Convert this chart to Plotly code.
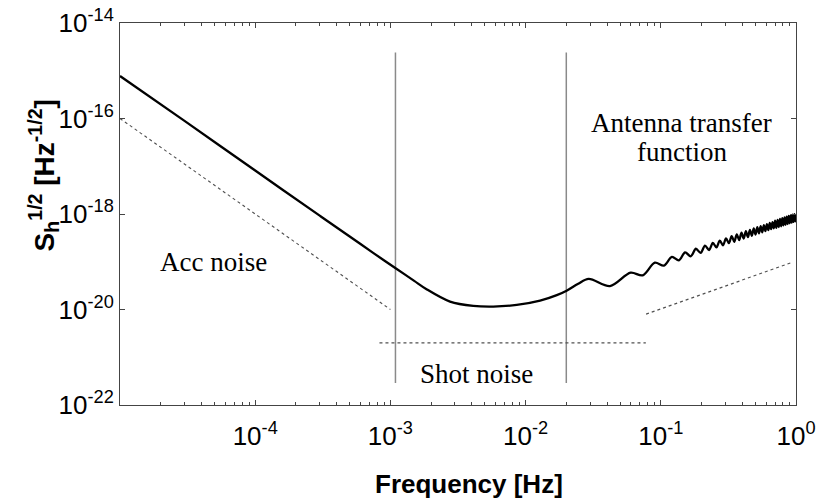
import plotly.graph_objects as go

# ---- data (frequency in Hz, strain ASD as log10) ----
solid_freq = [1e-5, 3e-5, 1e-4, 3e-4, 5e-4, 7.5e-4, 1.1e-3, 1.5e-3, 1.85e-3, 2.76e-3, 4.1e-3, 5.77e-3, 8.6e-3,
              0.0128, 0.0170, 0.0201, 0.0245,
              0.0293, 0.0421, 0.0598, 0.0735,
              0.0903, 0.1055, 0.1208, 0.1360, 0.1513, 0.1665, 0.1818, 0.1970,
              0.2123, 0.2275, 0.2428, 0.2580, 0.2733, 0.2885, 0.3038, 0.3190,
              0.3343, 0.3495, 0.3648, 0.3800, 0.3953, 0.4105, 0.4258, 0.4410,
              0.4563, 0.4715, 0.4868, 0.5020, 0.5173, 0.5325, 0.5478, 0.5630,
              0.5783, 0.5935, 0.6088, 0.6240, 0.6393, 0.6545, 0.6698, 0.6850,
              0.7003, 0.7155, 0.7308, 0.7460, 0.7613, 0.7765, 0.7918, 0.8070,
              0.8223, 0.8375, 0.8528, 0.8680, 0.8833, 0.8985, 0.9138, 0.9290,
              0.9443, 0.9595, 0.9748, 0.9900, 1.0]
solid_log_asd = [-15.11, -16.05, -17.09, -18.035, -18.47, -18.82, -19.14, -19.40, -19.575, -19.835, -19.925, -19.94, -19.905,
                 -19.815, -19.70, -19.606, -19.46,
                 -19.36, -19.51, -19.23, -19.285,
                 -19.02, -19.08, -18.90, -18.97, -18.805, -18.886, -18.728, -18.815,
                 -18.663, -18.754, -18.607, -18.700, -18.556, -18.654, -18.511, -18.611,
                 -18.462, -18.583, -18.425, -18.547, -18.391, -18.515, -18.360, -18.485,
                 -18.331, -18.457, -18.304, -18.430, -18.277, -18.406, -18.253, -18.383,
                 -18.231, -18.360, -18.210, -18.339, -18.188, -18.318, -18.169, -18.299,
                 -18.140, -18.291, -18.122, -18.273, -18.104, -18.257, -18.088, -18.240,
                 -18.072, -18.225, -18.057, -18.209, -18.042, -18.195, -18.028, -18.181,
                 -18.014, -18.167, -18.001, -18.154, -18.02]
solid_asd = [10 ** v for v in solid_log_asd]

acc_freq = [1e-5, 1e-3]
acc_asd = [1e-16, 1e-20]

shot_freq = [8.3e-4, 0.0775]
shot_asd = [2.0e-21, 2.0e-21]

antenna_freq = [0.0778, 0.92]
antenna_asd = [8.0e-21, 9.5e-20]

regime_freqs = [1.09e-3, 0.02]
regime_span = [2.4e-15, 2.9e-22]

x_tickvals = [1e-4, 1e-3, 1e-2, 1e-1, 1]
x_ticktext = ["10<sup>-4</sup>", "10<sup>-3</sup>", "10<sup>-2</sup>", "10<sup>-1</sup>", "10<sup>0</sup>"]
y_tickvals = [1e-14, 1e-16, 1e-18, 1e-20, 1e-22]
y_ticktext = ["10<sup>-14</sup>", "10<sup>-16</sup>", "10<sup>-18</sup>", "10<sup>-20</sup>", "10<sup>-22</sup>"]
x_minor = [d * 10 ** e for e in range(-5, 0) for d in range(2, 10)]

fig = go.Figure()

for f in regime_freqs:
    fig.add_trace(go.Scatter(x=[f, f], y=regime_span, mode="lines",
                             line=dict(color="#8a8a8a", width=1.5), hoverinfo="skip"))

dash_style = dict(color="#505050", width=1.1, dash="3px,3px")
fig.add_trace(go.Scatter(x=acc_freq, y=acc_asd, mode="lines", line=dash_style))
fig.add_trace(go.Scatter(x=shot_freq, y=shot_asd, mode="lines", line=dash_style))
fig.add_trace(go.Scatter(x=antenna_freq, y=antenna_asd, mode="lines", line=dash_style))

fig.add_trace(go.Scatter(x=solid_freq, y=solid_asd, mode="lines",
                         line=dict(color="black", width=2.3, shape="spline", smoothing=0.9)))

serif = dict(family="Liberation Serif", size=27, color="black")
fig.add_annotation(text="Acc noise", xref="paper", yref="paper", x=0.139, y=0.374,
                   showarrow=False, font=serif, xanchor="center", yanchor="middle")
fig.add_annotation(text="Shot noise", xref="paper", yref="paper", x=0.528, y=0.081,
                   showarrow=False, font=serif, xanchor="center", yanchor="middle")
fig.add_annotation(text="Antenna transfer", xref="paper", yref="paper",
                   x=0.831, y=0.738, showarrow=False, font=serif,
                   xanchor="center", yanchor="middle")
fig.add_annotation(text="function", xref="paper", yref="paper",
                   x=0.831, y=0.662, showarrow=False, font=serif,
                   xanchor="center", yanchor="middle")

fig.add_annotation(text="<b>Frequency [Hz]</b>", xref="paper", yref="paper",
                   x=0.516, y=-0.207, showarrow=False,
                   font=dict(family="Liberation Sans", size=26, color="black"),
                   xanchor="center", yanchor="middle")
fig.add_annotation(text="<b>S<sub>h</sub><sup>1/2</sup> [Hz<sup>-1/2</sup>]</b>",
                   xref="paper", yref="paper", x=-0.113, y=0.6, textangle=-90,
                   showarrow=False, font=dict(family="Liberation Sans", size=28, color="black"),
                   xanchor="center", yanchor="middle")

axis_common = dict(showgrid=False, zeroline=False, showline=True, linecolor="#444",
                   linewidth=1, mirror="ticks", ticks="inside", ticklen=5,
                   tickcolor="#444", automargin=False,
                   tickfont=dict(family="Liberation Sans", size=26, color="black"))

fig.update_xaxes(type="log", range=[-5, 0], tickmode="array", tickvals=x_tickvals,
                 ticktext=x_ticktext, ticklabelstandoff=8,
                 minor=dict(tickmode="array", tickvals=x_minor, ticks="inside",
                            ticklen=3, tickcolor="#444", showgrid=False),
                 **axis_common)
fig.update_yaxes(type="log", range=[-22, -14], tickmode="array", tickvals=y_tickvals,
                 ticktext=y_ticktext, **axis_common)

fig.update_layout(width=816, height=498, showlegend=False,
                  margin=dict(l=120, r=20, t=23, b=93),
                  plot_bgcolor="white", paper_bgcolor="white")

fig.write_html("out.html")
